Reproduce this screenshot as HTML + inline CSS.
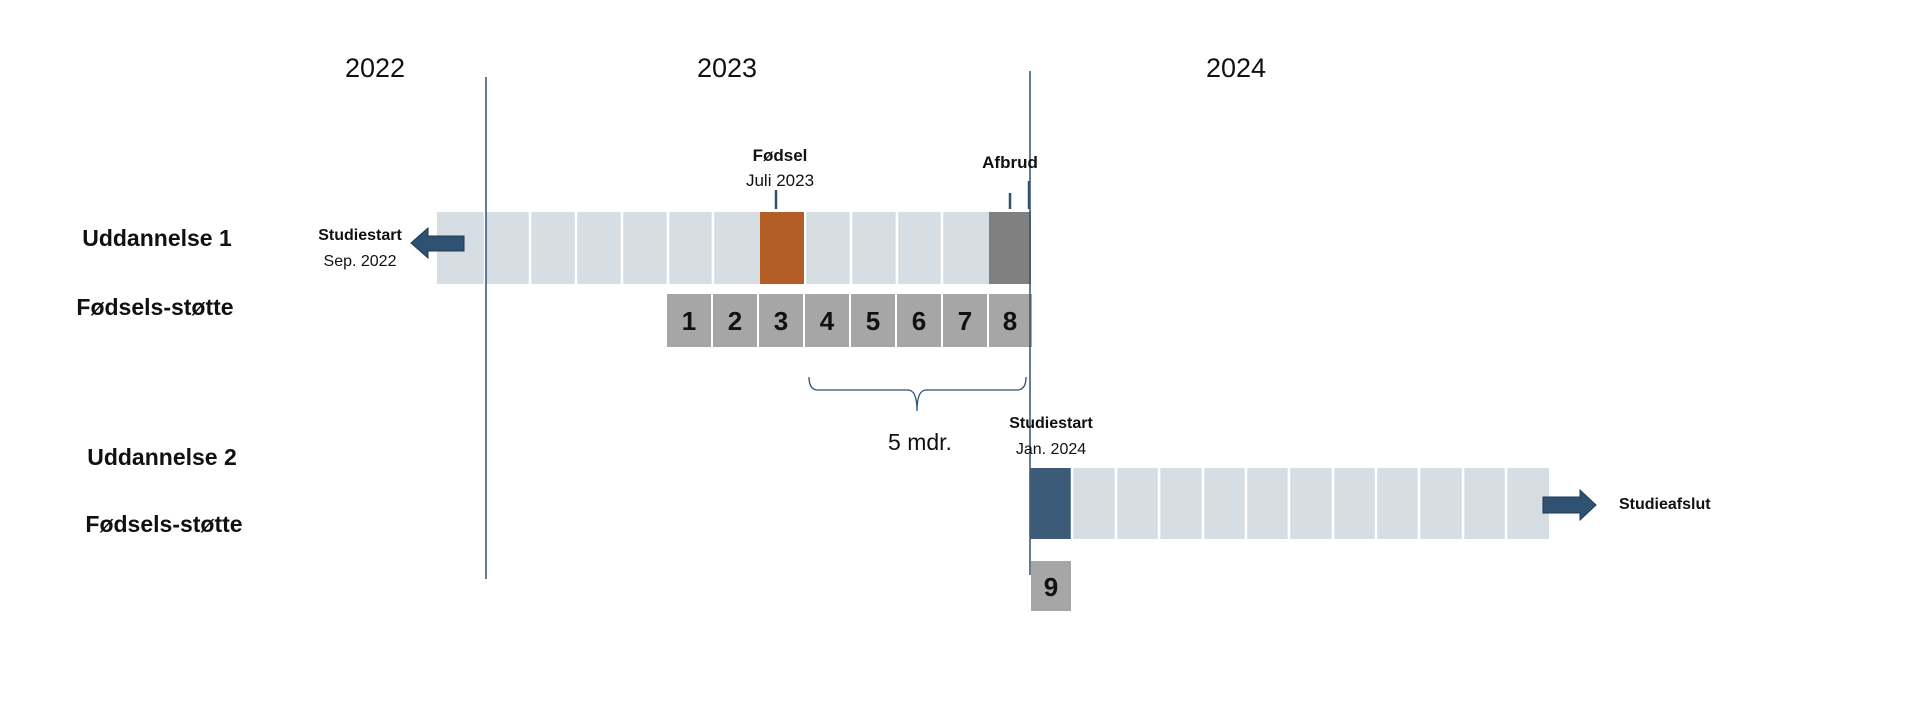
<!DOCTYPE html>
<html><head><meta charset="utf-8"><style>
body{margin:0;width:1920px;height:710px;background:#fff;overflow:hidden;font-family:"Liberation Sans",sans-serif}
</style></head><body>
<svg width="1920" height="710" xmlns="http://www.w3.org/2000/svg" font-family="Liberation Sans, sans-serif">
<g font-size="27" text-anchor="middle" fill="#111">
<text x="375" y="77">2022</text><text x="727" y="77">2023</text><text x="1236" y="77">2024</text>
</g>
<!-- row1 bar -->
<g fill="#d6dde3">
<rect x="437" y="212" width="594" height="72"/>
</g>
<g stroke="#fff" stroke-width="2.5">
<line x1="485" y1="212" x2="485" y2="284"/><line x1="530" y1="212" x2="530" y2="284"/><line x1="576" y1="212" x2="576" y2="284"/><line x1="622" y1="212" x2="622" y2="284"/><line x1="668" y1="212" x2="668" y2="284"/><line x1="713" y1="212" x2="713" y2="284"/><line x1="805" y1="212" x2="805" y2="284"/><line x1="851" y1="212" x2="851" y2="284"/><line x1="897" y1="212" x2="897" y2="284"/><line x1="942" y1="212" x2="942" y2="284"/>
</g>
<rect x="760" y="212" width="44" height="72" fill="#b35e27"/>
<rect x="989" y="212" width="42" height="72" fill="#808080"/>
<!-- numbers -->
<g fill="#a6a6a6">
<rect x="667" y="294" width="44" height="53"/><rect x="713" y="294" width="44" height="53"/><rect x="759" y="294" width="44" height="53"/><rect x="805" y="294" width="44" height="53"/><rect x="851" y="294" width="44" height="53"/><rect x="897" y="294" width="44" height="53"/><rect x="943" y="294" width="44" height="53"/><rect x="989" y="294" width="43" height="53"/>
</g>
<g font-size="26" font-weight="bold" text-anchor="middle" fill="#111">
<text x="689" y="330">1</text><text x="735" y="330">2</text><text x="781" y="330">3</text><text x="827" y="330">4</text><text x="873" y="330">5</text><text x="919" y="330">6</text><text x="965" y="330">7</text><text x="1010" y="330">8</text>
</g>
<!-- vertical lines -->
<line x1="486" y1="77" x2="486" y2="579" stroke="#2e5272" stroke-width="1.5"/>
<line x1="1030" y1="71" x2="1030" y2="575" stroke="#2e5272" stroke-width="1.5"/>
<line x1="776" y1="190" x2="776" y2="209" stroke="#2e5272" stroke-width="2.5"/>
<line x1="1010" y1="193" x2="1010" y2="209" stroke="#2e5272" stroke-width="2.5"/>
<line x1="1029" y1="181" x2="1029" y2="209" stroke="#2e5272" stroke-width="2.5"/>
<!-- labels -->
<g fill="#111" text-anchor="middle">
<text x="780" y="161" font-size="17" font-weight="bold">Fødsel</text>
<text x="780" y="186" font-size="17">Juli 2023</text>
<text x="1010" y="168" font-size="17" font-weight="bold">Afbrud</text>
<text x="157" y="246" font-size="23" font-weight="bold">Uddannelse 1</text>
<text x="155" y="315" font-size="23" font-weight="bold">Fødsels-støtte</text>
<text x="360" y="240" font-size="16" font-weight="bold">Studiestart</text>
<text x="360" y="266" font-size="16">Sep. 2022</text>
<text x="920" y="450" font-size="23">5 mdr.</text>
<text x="1051" y="428" font-size="16" font-weight="bold">Studiestart</text>
<text x="1051" y="454" font-size="16">Jan. 2024</text>
<text x="162" y="465" font-size="23" font-weight="bold">Uddannelse 2</text>
<text x="164" y="532" font-size="23" font-weight="bold">Fødsels-støtte</text>
<text x="1619" y="509" font-size="16" font-weight="bold" text-anchor="start">Studieafslut</text>
</g>
<!-- left arrow -->
<polygon points="464,236 428,236 428,228 411,243 428,258 428,251 464,251" fill="#2f5272" stroke="#1f3a55" stroke-width="1"/>
<!-- brace -->
<path d="M809,377 Q809,390 818,390 L908,390 Q917,390 917,411 Q917,390 926,390 L1017,390 Q1026,390 1026,377" fill="none" stroke="#2e5272" stroke-width="1.3"/>
<!-- row3 -->
<rect x="1030" y="468" width="519" height="71" fill="#d6dde3"/>
<rect x="1030" y="468" width="41" height="71" fill="#3b5b78"/>
<g stroke="#fff" stroke-width="2.5">
<line x1="1072" y1="468" x2="1072" y2="539"/><line x1="1116" y1="468" x2="1116" y2="539"/><line x1="1159" y1="468" x2="1159" y2="539"/><line x1="1203" y1="468" x2="1203" y2="539"/><line x1="1246" y1="468" x2="1246" y2="539"/><line x1="1289" y1="468" x2="1289" y2="539"/><line x1="1333" y1="468" x2="1333" y2="539"/><line x1="1376" y1="468" x2="1376" y2="539"/><line x1="1419" y1="468" x2="1419" y2="539"/><line x1="1463" y1="468" x2="1463" y2="539"/><line x1="1506" y1="468" x2="1506" y2="539"/>
</g>
<polygon points="1543,497 1580,497 1580,490 1596,505 1580,520 1580,513 1543,513" fill="#2f5272" stroke="#1f3a55" stroke-width="1"/>
<rect x="1031" y="561" width="40" height="50" fill="#a6a6a6"/>
<text x="1051" y="596" font-size="26" font-weight="bold" text-anchor="middle" fill="#111">9</text>
</svg>
</body></html>
